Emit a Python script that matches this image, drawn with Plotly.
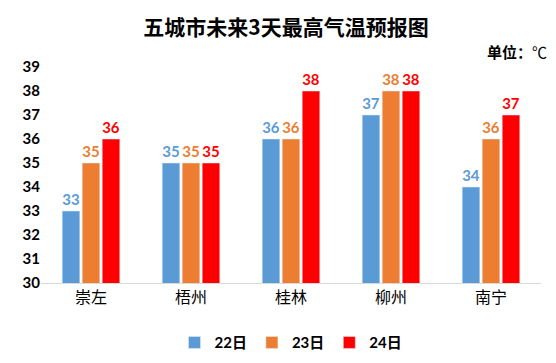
import plotly.graph_objects as go

cities = ["崇左", "梧州", "桂林", "柳州", "南宁"]
series_names = ["22日", "23日", "24日"]
t22 = [33, 35, 36, 37, 34]
t23 = [35, 35, 36, 38, 36]
t24 = [36, 35, 38, 38, 37]
colors = ["#5B9BD5", "#ED7D31", "#FF0000"]
y_ticks = list(range(30, 40))

fig = go.Figure()
for name, vals, c in zip(series_names, [t22, t23, t24], colors):
    fig.add_trace(go.Bar(
        x=cities, y=vals, name="<b>" + name + "</b>", marker_color=c,
        text=[str(v) for v in vals], textposition="outside",
        textfont=dict(family="Lato, Noto Sans", size=15, color=c),
        texttemplate="<b>%{text}</b>", cliponaxis=False,
    ))

fig.update_layout(
    width=556, height=363,
    margin=dict(l=33, r=23, t=59, b=84),
    paper_bgcolor="white", plot_bgcolor="white",
    barmode="group", bargap=0.4, bargroupgap=0.12,
    title=dict(text="<b>五城市未来3天最高气温预报图</b>", x=0.5, xanchor="center", y=0.945, yanchor="middle",
               font=dict(family="Noto Sans CJK SC", size=21, color="black")),
    showlegend=True,
    legend=dict(orientation="h", x=0.5, xanchor="center", y=-0.2, yanchor="top",
                font=dict(family="Lato, Noto Sans CJK SC", size=15, color="black"),
                itemwidth=30, traceorder="normal"),
)
fig.update_yaxes(range=[30, 39], tickvals=y_ticks, ticktext=["<b>%d</b>" % v for v in y_ticks],
                 showgrid=False, zeroline=False, showline=False,
                 tickfont=dict(family="Lato", size=15, color="black"))
fig.update_xaxes(showgrid=False, showline=True, linecolor="#D9D9D9", linewidth=1,
                 tickfont=dict(family="Noto Sans CJK SC", size=16, color="black"))
fig.add_annotation(text="<b>单位：</b>℃", xref="paper", yref="paper", x=1.015, y=1.07,
                   xanchor="right", yanchor="middle", showarrow=False,
                   font=dict(family="Noto Sans CJK SC", size=15, color="black"))

fig.write_html("out.html")
